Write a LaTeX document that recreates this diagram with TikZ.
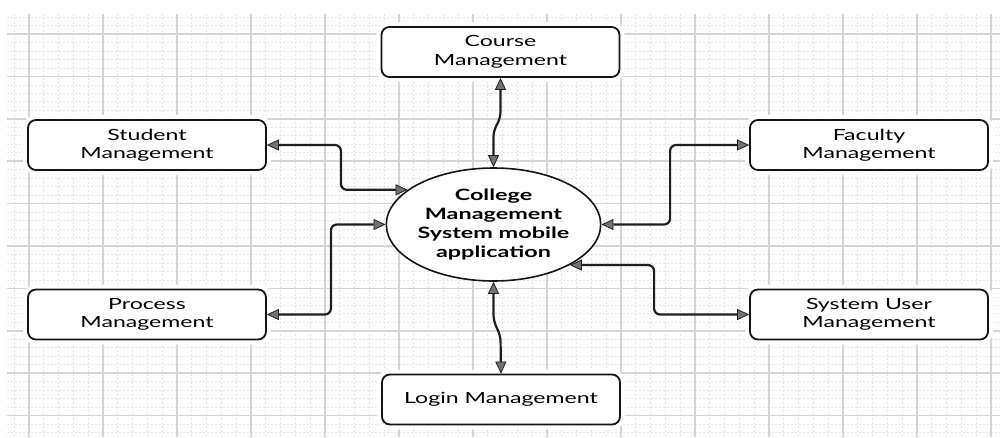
\documentclass[tikz,border=0pt]{standalone}
\usepackage{fontspec}
\newfontfamily\lato[FakeStretch=1.5]{Lato}
\usetikzlibrary{arrows.meta,shapes.geometric}
\begin{document}
\begin{tikzpicture}[x=1pt,y=-1pt,
  minorline/.style={draw=black!10, line width=0.7pt, dash pattern=on 2pt off 2pt},
  majorline/.style={draw=black!17, line width=1.6pt},
  box/.style={draw=black!92, line width=1.8pt, rounded corners=8pt, fill=white,
    minimum width=238pt, minimum height=50pt, inner sep=0pt, align=center,
    font={\lato\fontsize{15.4}{18.5}\selectfont},
    preaction={draw=white, line width=10pt}},
  hub/.style={ellipse, draw=black!92, line width=1.6pt, fill=white,
    minimum width=194pt, minimum height=113pt, inner sep=0pt, align=center,
    font={\lato\bfseries\fontsize{15.6}{18.7}\selectfont}},
  conn/.style={draw=black!88, line width=2.2pt, rounded corners=6pt,
    >={Triangle[length=12pt,width=11pt,fill=black!55,line width=0.8pt]}, <->}
]
\useasboundingbox (0,0) rectangle (1002,437);
\fill[white] (0,0) rectangle (1002,437);
% grid
\begin{scope}
\clip (7,14) rectangle (1000,437);
\foreach \k in {-1,...,66} \draw[minorline] ({29+14.8*\k},14) -- ({29+14.8*\k},437);
\foreach \k in {-3,...,48} \draw[minorline] (7,{34+8.48*\k}) -- (1000,{34+8.48*\k});
\foreach \k in {0,...,13} \draw[majorline] ({29+74*\k},14) -- ({29+74*\k},437);
\foreach \k in {0,...,9} \draw[majorline] (7,{34+42.4*\k}) -- (1000,{34+42.4*\k});
\end{scope}
% nodes
\node[box] (crs) at (500.5,52) {Course\\Management};
\node[box] (stu) at (147,145) {Student\\Management};
\node[box] (fac) at (869,145) {Faculty\\Management};
\node[box] (pro) at (147,314.5) {Process\\Management};
\node[box] (sys) at (869,314.5) {System User\\Management};
\node[box] (log) at (501,399.5) {Login Management};
\node[hub] (cms) at (493.5,224.5) {College\\Management\\System mobile\\application};
% connectors
\draw[conn] (stu.east) -- ++(74,0) |- (cms.158);
\draw[conn] (pro.east) -- ++(64,0) |- (cms.west);
\draw[conn] (fac.west) -- ++(-79,0) |- (cms.east);
\draw[conn] (sys.west) -- ++(-95,0) |- (cms.-28);
\draw[conn] (crs.south) -- ++(0,40) -- ++(-7,13) -- (cms.north);
\draw[conn] (cms.south) -- ++(0,39) -- ++(7,15) -- (log.north);
\end{tikzpicture}
\end{document}
